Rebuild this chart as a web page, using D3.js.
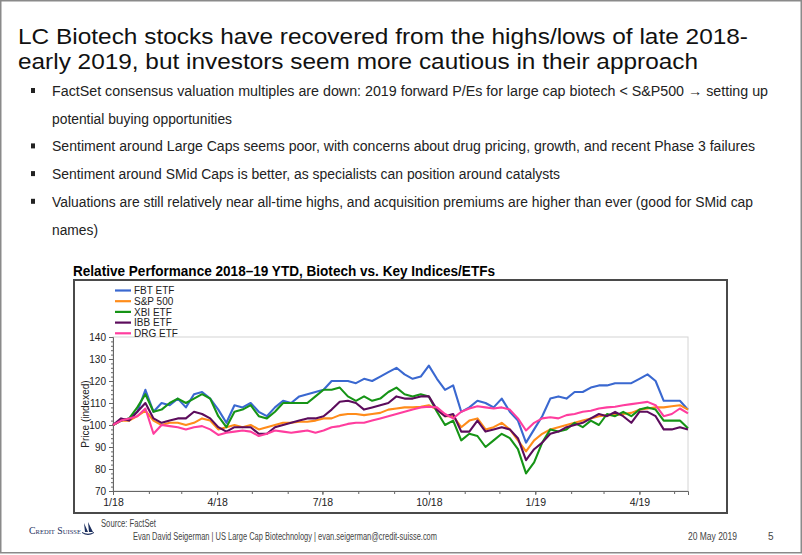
<!DOCTYPE html>
<html><head><meta charset="utf-8">
<script src="https://cdn.jsdelivr.net/npm/d3@7"></script>
<style>body{margin:0;background:#fff}svg{display:block}</style>
</head><body>
<script>
// ---------- DATA ----------
const titleLines = ["LC Biotech stocks have recovered from the highs/lows of late 2018-",
                    "early 2019, but investors seem more cautious in their approach"];
const bullets = [
  ["FactSet consensus valuation multiples are down: 2019 forward P/Es for large cap biotech < S&P500 \u2192 setting up", "potential buying opportunities"],
  ["Sentiment around Large Caps seems poor, with concerns about drug pricing, growth, and recent Phase 3 failures"],
  ["Sentiment around SMid Caps is better, as specialists can position around catalysts"],
  ["Valuations are still relatively near all-time highs, and acquisition premiums are higher than ever (good for SMid cap", "names)"]
];
const chartTitle = "Relative Performance 2018\u201319 YTD, Biotech vs. Key Indices/ETFs";
const yLabel = "Price (indexed)";
const yTicks = [70, 80, 90, 100, 110, 120, 130, 140];
const xTickLabels = ["2018-01-01","2018-04-01","2018-07-01","2018-10-01","2019-01-01","2019-04-01"];
const dates = ["2018-01-01","2018-01-08","2018-01-15","2018-01-22","2018-01-29","2018-02-05","2018-02-12","2018-02-19","2018-02-26",
 "2018-03-05","2018-03-12","2018-03-19","2018-03-26","2018-04-02","2018-04-09","2018-04-16","2018-04-23","2018-04-30",
 "2018-05-07","2018-05-14","2018-05-21","2018-05-28","2018-06-04","2018-06-11","2018-06-18","2018-06-25",
 "2018-07-02","2018-07-09","2018-07-16","2018-07-23","2018-07-30","2018-08-06","2018-08-13","2018-08-20","2018-08-27",
 "2018-09-03","2018-09-10","2018-09-17","2018-09-24","2018-10-01","2018-10-08","2018-10-15","2018-10-22","2018-10-29",
 "2018-11-05","2018-11-12","2018-11-19","2018-11-26","2018-12-03","2018-12-10","2018-12-17","2018-12-24","2018-12-31",
 "2019-01-07","2019-01-14","2019-01-21","2019-01-28","2019-02-04","2019-02-11","2019-02-18","2019-02-25",
 "2019-03-04","2019-03-11","2019-03-18","2019-03-25","2019-04-01","2019-04-08","2019-04-15","2019-04-22","2019-04-29",
 "2019-05-06","2019-05-13"];
const seriesNames = ["FBT ETF", "S&P 500", "XBI ETF", "IBB ETF", "DRG ETF"];
const fbt = [100,102,103,106,116,106,110,109,112,108,114,115,112,107,101,109,108,110,106,104,108,111,110,113,114,115,
 116,120,120,120,119,121,120,122,124,126,123,121,122,127,121,116,118,106,108,111,110,108,112,106,102,92,98,
 104,112,113,112,115,115,117,118,118,119,119,119,121,123,120,111,111,111,107];
const sp500 = [100,102,102,104,106.5,102,100,101,101,100,101,103,102,98,99,100,99,100,98,99,100,101,101,101.5,101.5,102,
 103,103,104.5,105,105,104.5,105,105.5,107,107.5,108,108,108.3,109,107,104,104,99,102,103,98,99,101,98,93,88,93,
 96,98,99,100,101,102,103,104,104.5,104.5,105,105.5,107,107.5,108,108,108.5,109,107];
const xbi = [100,102,103,108,114,106,107,110,112,110,112,114,112,104,99,106,107,109,104,103,106,110,110,110,110,113,
 116,116,117,113,111,113,111,112,115,117,114,113,114,113,106,100,102,93,96,95,90,93,96,94,89,78,83,
 92,98,97,98,101,99,102,100,105,104,106,104,107,108,107,102,102,102,98.5];
const ibb = [100,103,102,106,110,103,101,102,103,103,106,105,103,99,97,99,99,99,96,96,99,100,101,102,103,103,
 104,107,110.6,111,110,107,108,109,110,113,112,112,113,113,107,104,105,97,97,102,97,98,99,98,94,84,89,
 92,96,97,99,100,101,103,105,104,106,104,101,106,106,104,98,98,99,98];
const drg = [100,102,103,104,107.5,96,100,99.5,99,98,99,99.5,98,95.5,96.5,97,97.5,97,95,96,97.5,97,96.5,97,97.5,96.5,
 97.5,99,99.5,100.5,101,101,102,103,104,105,106,107,108,108.3,108,105,103,106,107.5,108.5,108,107.5,108,107,103,97.5,101,
 103,103.5,103,104.5,105,106,106.5,107.5,108,108.3,109,109.5,110,110.5,109,104,105,107.5,105.3];
const seriesValues = [fbt, sp500, xbi, ibb, drg];
const footerSource = "Source: FactSet";
const footerAuthor = "Evan David Seigerman | US Large Cap Biotechnology | evan.seigerman@credit-suisse.com";
const footerDate = "20 May 2019";
const pageNo = "5";
const logoText = "Credit Suisse";

// ---------- STYLES ----------
const colors = ["#3a68d0", "#ff8c1a", "#169416", "#5c0c5c", "#ff3d9e"];
const sans = "'Liberation Sans',Arial,Helvetica,sans-serif";

const W = 802, H = 555;
const svg = d3.select("body").append("svg").attr("width", W).attr("height", H);
svg.append("rect").attr("x",0).attr("y",0).attr("width",W).attr("height",H).attr("fill","#fff");
// slide border
svg.append("rect").attr("x",0.75).attr("y",0.75).attr("width",W-1.5).attr("height",H-3)
  .attr("fill","none").attr("stroke","#8a8a8a").attr("stroke-width",1.5);

// title
const tLens = [730, 680];
svg.selectAll("text.title").data(titleLines).join("text")
  .attr("class","title").attr("x",18).attr("y",(d,i)=>44+i*24.5)
  .attr("font-family",sans).attr("font-size",22.5).attr("fill","#111")
  .attr("textLength",(d,i)=>tLens[i]).attr("lengthAdjust","spacingAndGlyphs")
  .text(d=>d);

// bullets
const bulletLens = [[716, 180], [703], [508], [701, 46]];
let by = 96;
bullets.forEach((lines, bi) => {
  svg.append("rect").attr("x",31).attr("y",by-8).attr("width",4).attr("height",5).attr("fill","#222");
  lines.forEach((ln, li) => {
    svg.append("text").attr("x",52).attr("y",by)
      .attr("font-family",sans).attr("font-size",14).attr("fill","#222")
      .attr("textLength",bulletLens[bi][li]).attr("lengthAdjust","spacingAndGlyphs")
      .text(ln);
    by += 27.7;
  });
});

// chart frame
svg.append("rect").attr("x",74).attr("y",280).attr("width",653).attr("height",233)
  .attr("fill","#fff").attr("stroke","#4a4a4a").attr("stroke-width",2);
svg.append("text").attr("x",73).attr("y",276).attr("font-family",sans).attr("font-weight","bold")
  .attr("font-size",14).attr("fill","#000").attr("textLength",422).attr("lengthAdjust","spacingAndGlyphs")
  .text(chartTitle);

// scales
const parse = d3.timeParse("%Y-%m-%d");
const x = d3.scaleTime().domain([parse("2018-01-01"), parse("2019-05-13")]).range([113, 688]);
const y = d3.scaleLinear().domain([70, 140]).range([491, 337]);

// plot box (light top/right)
svg.append("rect").attr("x",113).attr("y",337).attr("width",575).attr("height",154)
  .attr("fill","none").attr("stroke","#d4d4d4").attr("stroke-width",1);

// axes
const yMinor = svg.append("g").attr("transform","translate(113,0)")
  .call(d3.axisLeft(y).tickValues(d3.range(70,141,2)).tickSize(2).tickFormat(""));
yMinor.select(".domain").remove();
const yAx = svg.append("g").attr("transform","translate(113,0)")
  .call(d3.axisLeft(y).tickValues(yTicks).tickSize(4).tickPadding(3));
const xMinor = svg.append("g").attr("transform","translate(0,491)")
  .call(d3.axisBottom(x).tickValues(d3.timeMonth.range(parse("2018-01-01"), parse("2019-05-14"))).tickSize(3).tickFormat(""));
xMinor.select(".domain").remove();
const xAx = svg.append("g").attr("transform","translate(0,491)")
  .call(d3.axisBottom(x).tickValues(xTickLabels.map(parse)).tickSize(4).tickPadding(4).tickFormat(d3.timeFormat("%-m/%y")));
[yMinor, yAx, xMinor, xAx].forEach(g => {
  g.selectAll("line").attr("stroke","#666");
  g.selectAll("path.domain").attr("stroke","#666");
  g.selectAll("text").attr("font-family",sans).attr("font-size",10).attr("fill","#222");
});
xAx.selectAll("text").attr("font-size",10.5);

svg.append("text").attr("transform","translate(89,414) rotate(-90)").attr("text-anchor","middle")
  .attr("font-family",sans).attr("font-size",10).attr("fill","#222").text(yLabel);

// lines
const line = d3.line().x((d,i)=>x(parse(dates[i]))).y(d=>y(d)).curve(d3.curveLinear);
svg.append("g").selectAll("path").data(seriesValues).join("path")
  .attr("d", d=>line(d)).attr("fill","none").attr("stroke",(d,i)=>colors[i])
  .attr("stroke-width",2.1).attr("stroke-linejoin","round");

// legend
const lg = svg.append("g").selectAll("g").data(seriesNames).join("g")
  .attr("transform",(d,i)=>`translate(115,${290.5 + i*10.7})`);
lg.append("line").attr("x1",0).attr("x2",16).attr("stroke",(d,i)=>colors[i]).attr("stroke-width",2.2);
lg.append("text").attr("x",19).attr("y",3.6).attr("font-family",sans).attr("font-size",10)
  .attr("fill","#222").text(d=>d);

// footer
svg.append("text").attr("x",101).attr("y",527).attr("font-family",sans).attr("font-size",10)
  .attr("fill","#444").attr("textLength",55).attr("lengthAdjust","spacingAndGlyphs").text(footerSource);
svg.append("text").attr("x",133).attr("y",540).attr("font-family",sans).attr("font-size",10)
  .attr("fill","#444").attr("textLength",304).attr("lengthAdjust","spacingAndGlyphs").text(footerAuthor);
svg.append("text").attr("x",688).attr("y",540).attr("font-family",sans).attr("font-size",10)
  .attr("fill","#444").attr("textLength",49).attr("lengthAdjust","spacingAndGlyphs").text(footerDate);
svg.append("text").attr("x",768).attr("y",540).attr("font-family",sans).attr("font-size",10)
  .attr("fill","#444").text(pageNo);

// Credit Suisse logo
svg.append("text").attr("x",29).attr("y",534).attr("font-family","'Liberation Serif',serif")
  .attr("fill","#1c2f5e").attr("font-size",10.5).style("font-variant","small-caps")
  .attr("textLength",52).attr("lengthAdjust","spacingAndGlyphs").text(logoText);
svg.append("path").attr("d","M84,523 L88,532 L85,532 Z M88,522 L93,532 L89,532 Z M82,532 Q88,535.5 94,532 L94,533 Q88,537 82,533 Z")
  .attr("fill","#1c2f5e");
</script>
</body></html>
